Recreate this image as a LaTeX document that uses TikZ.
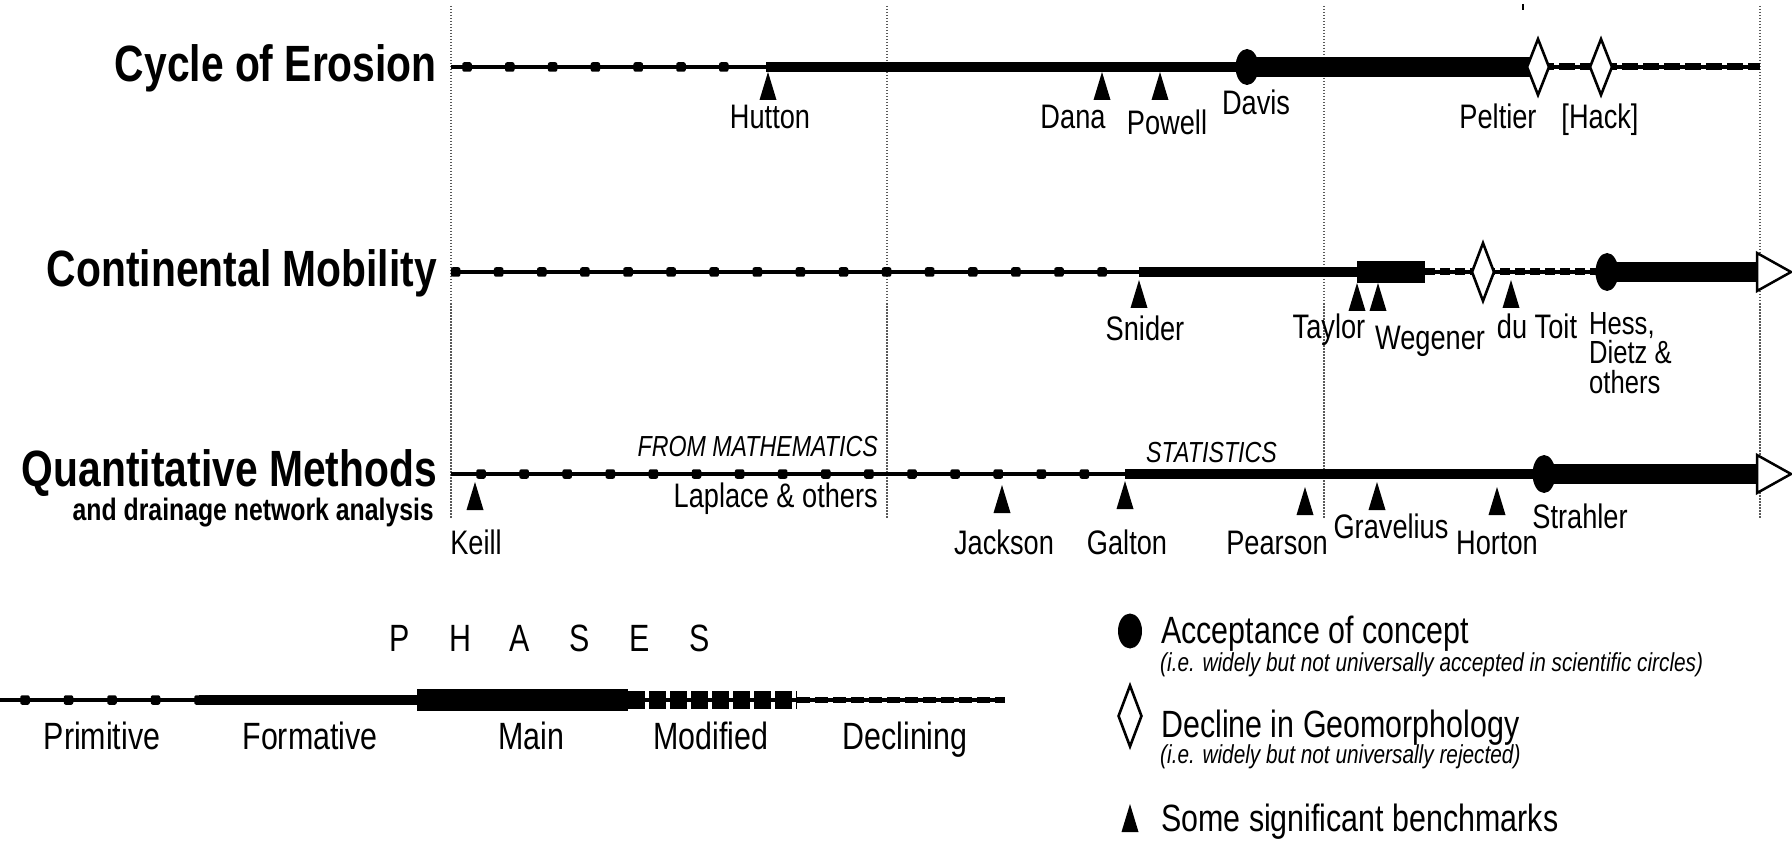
\documentclass[tikz,border=0pt]{standalone}
\usepackage{fontspec}
\setmainfont[FakeStretch=0.8]{Liberation Sans}
\usetikzlibrary{shapes.geometric}
\newcommand\fsz[1]{\fontsize{#1}{#1}\selectfont}
\tikzset{
  lbl/.style={inner sep=0, anchor=base, font=\fsz{34}},
  ttl/.style={inner sep=0, anchor=base east, font=\fsz{51}\bfseries},
  leg/.style={inner sep=0, anchor=base west, font=\fsz{38}},
  legsub/.style={inner sep=0, anchor=base west, font=\fsz{26}\itshape},
  guide/.style={black!65, line width=1.1, dash pattern=on 1.5pt off 1.5pt},
  thinln/.style={line width=3.8},
  formln/.style={line width=10},
  mainln/.style={line width=20},
  declA/.style={line width=7, dash pattern=on 16pt off 5pt},
  declB/.style={line width=7, dash pattern=on 10pt off 5pt},
  declC/.style={line width=6.5, dash pattern=on 13pt off 5pt},
  modln/.style={line width=18, dash pattern=on 17pt off 4pt},
  dotmk/.style={rectangle, rounded corners=2pt, fill, inner sep=0, minimum size=9.5},
  accmk/.style={ellipse, fill, inner sep=0, minimum width=23, minimum height=36},
  decmk/.style={diamond, draw, fill=white, line width=2.6, inner sep=0, minimum width=23, minimum height=57},
  openarrow/.style={draw, line width=2.5, fill=white},
  bench/.pic={\fill (0,0) -- (8.5,28) -- (-8.5,28) -- cycle;},
}
\begin{document}
\begin{tikzpicture}[x=1pt,y=-1pt]
\useasboundingbox (0,0) rectangle (1792,842);
\fill[white] (0,0) rectangle (1792,842);

% guide lines
\foreach \gx in {451,887,1324,1760} \draw[guide] (\gx,6) -- (\gx,518);
\draw[line width=2.5] (1523,4) -- (1523,10);

% ---------- Row 1: Cycle of Erosion ----------
\node[ttl] (t1) at (437,82) {Cycle of Erosion};
\draw[thinln] (451,67) -- (1760,67);
\foreach \k in {0,...,6} \node[dotmk] at ({467+42.8*\k},67) {};
\draw[formln] (766,67) -- (1247,67);
\draw[mainln] (1247,67) -- (1538,67);
\draw[declA] (1538,67) -- (1760,67);
\node[accmk] (davis) at (1247,67) {};
\node[decmk] (peltier) at (1538,67) {};
\node[decmk] (hack) at (1601,67) {};
\pic at (768,72) {bench};
\pic at (1102,72) {bench};
\pic at (1160,72) {bench};
\node[lbl] (lhutton) at (770,129) {Hutton};
\node[lbl] (ldana) at (1073,129) {Dana};
\node[lbl] (lpowell) at (1167,135) {Powell};
\node[lbl] (ldavis) at (1256,115) {Davis};
\node[lbl] (lpeltier) at (1498,129) {Peltier};
\node[lbl] (lhack) at (1600,129) {[Hack]};

% ---------- Row 2: Continental Mobility ----------
\node[ttl] (t2) at (437,287) {Continental Mobility};
\draw[thinln] (451,272) -- (1757,272);
\foreach \k in {0,...,15} \node[dotmk] at ({455.6+43.1*\k},272) {};
\draw[formln] (1139,272) -- (1357,272);
\draw[line width=22] (1357,272) -- (1425,272);
\draw[declB] (1425,272) -- (1607,272);
\node[decmk, minimum height=59] (d2) at (1483,272) {};
\draw[mainln] (1607,272) -- (1757,272);
\node[accmk, minimum height=38] (hess) at (1607,272) {};
\draw[openarrow] (1757,253) -- (1791,272) -- (1757,291) -- cycle;
\pic at (1139,280) {bench};
\pic at (1357,283) {bench};
\pic at (1378,283) {bench};
\pic at (1511,280) {bench};
\node[lbl] (lsnider) at (1145,341) {Snider};
\node[lbl] (ltaylor) at (1329,339) {Taylor};
\node[lbl] (lwegener) at (1430,350) {Wegener};
\node[lbl] (ldutoit) at (1537,339) {du Toit};
\node[lbl, anchor=base west, font=\fsz{32}] (lhess1) at (1589,335) {Hess,};
\node[lbl, anchor=base west, font=\fsz{32}] (lhess2) at (1589,364) {Dietz \&};
\node[lbl, anchor=base west, font=\fsz{32}] (lhess3) at (1589,393) {others};

% ---------- Row 3: Quantitative Methods ----------
\node[ttl] (t3) at (437,486) {Quantitative Methods};
\node[ttl, font=\fsz{31}\bfseries] (t3b) at (434,520) {and drainage network analysis};
\draw[thinln] (451,474) -- (1125,474);
\foreach \k in {0,...,14} \node[dotmk] at ({481+43.1*\k},474) {};
\draw[formln] (1125,474) -- (1544,474);
\draw[mainln] (1544,474) -- (1757,474);
\node[accmk, minimum height=38] (strahler) at (1544,474) {};
\draw[openarrow] (1757,455) -- (1791,474) -- (1757,493) -- cycle;
\pic at (475,482) {bench};
\pic at (1002,485) {bench};
\pic at (1125,481) {bench};
\pic at (1305,487) {bench};
\pic at (1377,482) {bench};
\pic at (1497,487) {bench};
\node[lbl, font=\fsz{29}\itshape, anchor=base east] (fmath) at (878,456) {FROM MATHEMATICS};
\node[lbl, anchor=base east] (laplace) at (878,507) {Laplace \& others};
\node[lbl, font=\fsz{29}\itshape, anchor=base west] (stat) at (1146,462) {STATISTICS};
\node[lbl] (lkeill) at (476,554) {Keill};
\node[lbl] (ljackson) at (1004,554) {Jackson};
\node[lbl] (lgalton) at (1127,554) {Galton};
\node[lbl] (lpearson) at (1277,554) {Pearson};
\node[lbl] (lgrav) at (1391,538) {Gravelius};
\node[lbl] (lhorton) at (1497,554) {Horton};
\node[lbl] (lstrahler) at (1580,528) {Strahler};

% ---------- Phases legend ----------
\node[inner sep=0, anchor=base, font=\fsz{38}] (phases) at (550,651)
  {\makebox[60pt]{P}\makebox[60pt]{H}\makebox[60pt]{A}\makebox[60pt]{S}\makebox[60pt]{E}\makebox[60pt]{S}};
\draw[thinln] (0,700) -- (1005,700);
\foreach \k in {0,...,4} \node[dotmk] at ({25+43.5*\k},700) {};
\draw[formln] (199,700) -- (417,700);
\draw[line width=22] (417,700) -- (628,700);
\draw[modln] (628,700) -- (797,700);
\draw[declC] (797,700) -- (1005,700);
\node[lbl, font=\fsz{38}] (pprim) at (102,749) {Primitive};
\node[lbl, font=\fsz{38}] (pform) at (310,749) {Formative};
\node[lbl, font=\fsz{38}] (pmain) at (531,749) {Main};
\node[lbl, font=\fsz{38}] (pmod) at (711,749) {Modified};
\node[lbl, font=\fsz{38}] (pdecl) at (905,749) {Declining};

% ---------- Symbol legend ----------
\node[accmk, minimum width=24, minimum height=35] (legacc) at (1130,631) {};
\node[leg] (tacc) at (1161,643) {Acceptance of concept};
\node[legsub] (tacc2) at (1160,671) {(i.e. widely but not universally accepted in scientific circles)};
\node[decmk, minimum width=24, minimum height=62] (legdec) at (1130,716) {};
\node[leg] (tdec) at (1161,737) {Decline in Geomorphology};
\node[legsub] (tdec2) at (1160,763) {(i.e. widely but not universally rejected)};
\pic at (1130,804) {bench};
\node[leg] (tbench) at (1161,831) {Some significant benchmarks};
\end{tikzpicture}
\end{document}
